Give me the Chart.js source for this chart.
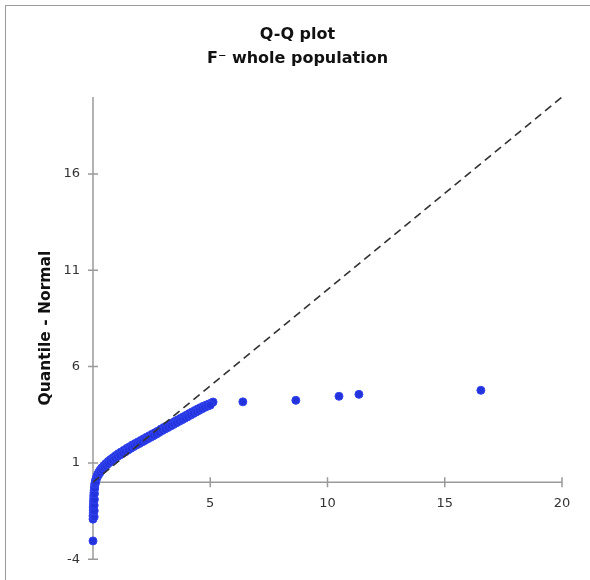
<!DOCTYPE html>
<html>
<head>
<meta charset="utf-8">
<script src="https://cdn.jsdelivr.net/npm/chart.js@4"></script>
<style>
  body { margin: 0; background: #fff; }
  #wrap { position: relative; width: 590px; height: 580px; }
  #frame { position: absolute; left: 5px; top: 5px; width: 600px; height: 600px; border: 1.5px solid #9a9a9a; box-sizing: border-box; pointer-events: none; }
</style>
</head>
<body>
<div id="wrap">
  <canvas id="myChart" width="590" height="580"></canvas>
  <div id="frame"></div>
</div>
<script>
// observed value (x) vs normal quantile (y)
const observed = [0.00, 0.00, 0.00, 0.01, 0.01, 0.01, 0.02, 0.02, 0.03, 0.03,
  0.04, 0.05, 0.06, 0.07, 0.08, 0.10, 0.13, 0.16, 0.20, 0.25,
  0.31, 0.38, 0.46, 0.55, 0.65, 0.75, 0.86, 0.97, 1.08, 1.20,
  1.32, 1.44, 1.56, 1.68, 1.80, 1.92, 2.04, 2.16, 2.28, 2.40,
  2.52, 2.64, 2.76, 2.90, 3.02, 3.14, 3.26, 3.38, 3.50, 3.62,
  3.74, 3.86, 3.98, 4.10, 4.22, 4.34, 4.46, 4.58, 4.70, 4.82,
  4.94, 5.06, 5.12, 6.39, 8.65, 10.49, 11.34, 16.54,
  0.05, 0.05, 0.05, 0.06, 0.06, 0.07, 0.09,
  0.12, 0.18, 0.24, 0.30, 0.38, 0.46, 0.55, 0.64, 0.74, 0.84,
  0.94, 1.04, 1.14, 1.26, 1.38, 1.50, 1.62, 1.74, 1.86, 1.98,
  2.10, 2.22, 2.34, 2.46, 2.58, 2.70, 2.82, 2.96, 3.08, 3.20,
  3.32, 3.44, 3.56, 3.68, 3.80, 3.92, 4.04, 4.16, 4.28, 4.40,
  4.52, 4.64, 4.76, 4.88, 5.00];
const quantile = [-3.05, -1.92, -1.75, -1.60, -1.45, -1.30, -1.15, -1.00, -0.85, -0.70,
  -0.55, -0.42, -0.30, -0.18, -0.06, 0.06, 0.18, 0.30, 0.42, 0.53,
  0.64, 0.75, 0.86, 0.97, 1.08, 1.18, 1.28, 1.38, 1.48, 1.57,
  1.66, 1.75, 1.84, 1.93, 2.01, 2.09, 2.17, 2.25, 2.33, 2.41,
  2.49, 2.57, 2.65, 2.76, 2.84, 2.92, 3.00, 3.08, 3.16, 3.24,
  3.32, 3.40, 3.48, 3.56, 3.64, 3.72, 3.80, 3.87, 3.94, 4.00,
  4.06, 4.12, 4.16, 4.17, 4.25, 4.46, 4.56, 4.77,
  -1.80, -1.50, -1.20, -0.90, -0.60, -0.30, -0.10,
  0.02, 0.24, 0.39, 0.50, 0.63, 0.74, 0.85, 0.95, 1.05, 1.14,
  1.23, 1.33, 1.40, 1.49, 1.58, 1.67, 1.76, 1.85, 1.93, 2.01,
  2.09, 2.17, 2.25, 2.33, 2.41, 2.49, 2.58, 2.68, 2.76, 2.84,
  2.92, 3.00, 3.08, 3.16, 3.24, 3.32, 3.40, 3.48, 3.56, 3.64,
  3.72, 3.80, 3.88, 3.94, 4.00];

const refX = [0, 20];
const refY = [0, 20];

const yTicks = [-4, 1, 6, 11, 16];
const xTicks = [5, 10, 15, 20];

const axesLayer = {
    id: 'axesLayer',
    beforeDatasetsDraw: (chart) => {
        const { ctx, scales: { x, y } } = chart;
        const x0 = x.getPixelForValue(0);
        const y0 = y.getPixelForValue(0);
        ctx.save();
        ctx.strokeStyle = '#9a9a9a';
        ctx.lineWidth = 1.5;
        ctx.beginPath();
        ctx.moveTo(x0, y.getPixelForValue(y.min));
        ctx.lineTo(x0, y.getPixelForValue(y.max));
        ctx.moveTo(x0, y0);
        ctx.lineTo(x.getPixelForValue(x.max), y0);
        yTicks.forEach(v => {
            const py = y.getPixelForValue(v);
            ctx.moveTo(x0 - 5, py);
            ctx.lineTo(x0 + 5, py);
        });
        xTicks.forEach(v => {
            const px = x.getPixelForValue(v);
            ctx.moveTo(px, y0 - 5);
            ctx.lineTo(px, y0 + 5);
        });
        ctx.stroke();
        ctx.restore();
    }
};

new Chart(document.getElementById('myChart'), {
    type: 'scatter',
    data: {
        datasets: [{
            type: 'line',
            label: 'Reference',
            data: refX.map((v, i) => ({ x: v, y: refY[i] })),
            borderColor: '#333',
            borderWidth: 1.6,
            borderDash: [8, 5],
            pointRadius: 0,
            fill: false,
            order: 0
        }, {
            label: 'F- whole population',
            data: observed.map((v, i) => ({ x: v, y: quantile[i] })),
            backgroundColor: '#2233dd',
            borderColor: '#3344ee',
            borderWidth: 1,
            pointRadius: 4,
            clip: false,
            order: 1
        }]
    },
    plugins: [axesLayer],
    options: {
        responsive: false,
        animation: false,
        layout: { padding: { left: 33, right: 28, top: 5, bottom: 20 } },
        plugins: {
            legend: { display: false },
            tooltip: { enabled: false },
            title: {
                display: true,
                text: ['Q-Q plot', 'F\u207B whole population'],
                color: '#111',
                font: { family: 'DejaVu Sans', size: 16, weight: 'bold', lineHeight: 1.5 },
                padding: { top: 18, bottom: 26 }
            }
        },
        scales: {
            x: {
                type: 'linear',
                min: 0,
                max: 20,
                position: { y: 0 },
                afterFit: s => { s.height = 0; },
                afterBuildTicks: s => { s.ticks = xTicks.map(v => ({ value: v })); },
                grid: { display: false, drawTicks: false },
                border: { display: false },
                ticks: { padding: 14, color: '#333', font: { family: 'DejaVu Sans', size: 13 }, maxRotation: 0 }
            },
            y: {
                type: 'linear',
                min: -4,
                max: 20,
                afterFit: s => { s.width = 60; },
                afterBuildTicks: s => { s.ticks = yTicks.map(v => ({ value: v })); },
                grid: { display: false, drawTicks: false },
                border: { display: false },
                ticks: { padding: 13, color: '#333', font: { family: 'DejaVu Sans', size: 13 } },
                title: {
                    display: true,
                    text: 'Quantile - Normal',
                    color: '#111',
                    font: { family: 'DejaVu Sans', size: 15.5, weight: 'bold' }
                }
            }
        }
    }
});
</script>
</body>
</html>
